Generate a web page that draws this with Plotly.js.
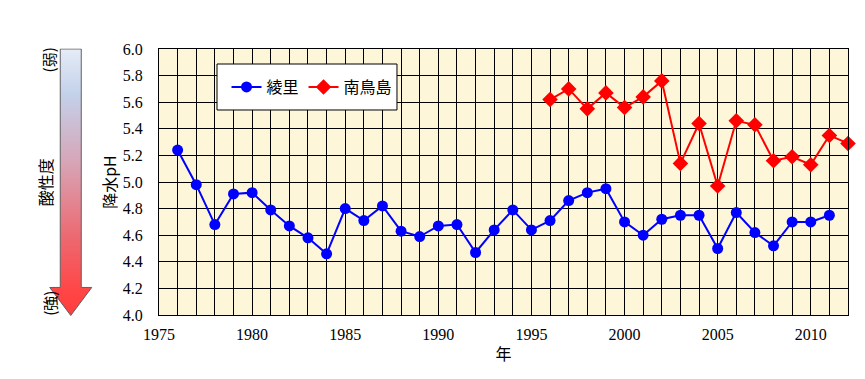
<!DOCTYPE html>
<html>
<head>
<meta charset="utf-8">
<script src="https://cdn.plot.ly/plotly-3.0.1.min.js"></script>
<style>html,body{margin:0;padding:0;background:#fff;}#chart{width:865px;height:379px;}</style>
</head>
<body>
<div id="chart"></div>
<script>
// ---- data ----
const yearsRyori = [1976,1977,1978,1979,1980,1981,1982,1983,1984,1985,1986,1987,1988,1989,1990,1991,1992,1993,1994,1995,1996,1997,1998,1999,2000,2001,2002,2003,2004,2005,2006,2007,2008,2009,2010,2011];
const phRyori = [5.24,4.98,4.68,4.91,4.92,4.79,4.67,4.58,4.46,4.80,4.71,4.82,4.63,4.59,4.67,4.68,4.47,4.64,4.79,4.64,4.71,4.86,4.92,4.95,4.70,4.60,4.72,4.75,4.75,4.50,4.77,4.62,4.52,4.70,4.70,4.75];
const yearsMinamitori = [1996,1997,1998,1999,2000,2001,2002,2003,2004,2005,2006,2007,2008,2009,2010,2011,2012];
const phMinamitori = [5.62,5.70,5.55,5.67,5.56,5.64,5.76,5.14,5.44,4.97,5.46,5.43,5.16,5.19,5.13,5.35,5.29];
const seriesNames = ['綾里','南鳥島'];
const xTitle = '年';
const yTitle = '降水pH';
const sideLabel = '酸性度';
const weakLabel = '(弱)';
const strongLabel = '(強)';

const serif = '"Liberation Serif", "DejaVu Serif", serif';
const jp = '"Noto Sans CJK JP", sans-serif';

const traces = [
  {x: yearsRyori, y: phRyori, name: seriesNames[0], type:'scatter', mode:'lines+markers',
   line:{color:'#0000FF', width:2}, marker:{color:'#0000FF', size:11, symbol:'circle'}, cliponaxis:false},
  {x: yearsMinamitori, y: phMinamitori, name: seriesNames[1], type:'scatter', mode:'lines+markers',
   line:{color:'#FF0000', width:2}, marker:{color:'#FF0000', size:12, symbol:'diamond'}, cliponaxis:false}
];

const arrowSvg = '<svg xmlns="http://www.w3.org/2000/svg" width="44" height="268" viewBox="0 0 44 268">' +
 '<defs><linearGradient id="g" x1="0" y1="0" x2="0" y2="1">' +
 '<stop offset="0" stop-color="#E6ECF7"/><stop offset="0.17" stop-color="#C3D1EA"/>' +
 '<stop offset="0.42" stop-color="#D7A6B8"/><stop offset="0.7" stop-color="#EC6A72"/>' +
 '<stop offset="0.9" stop-color="#FF4747"/><stop offset="1" stop-color="#FF3C3C"/></linearGradient></defs>' +
 '<path d="M11.5 0.5 H32.5 V239 H43 L22 267 L1 239 H11.5 Z" fill="url(#g)" stroke="#606060" stroke-width="1"/></svg>';

const layout = {
  width:865, height:379,
  margin:{l:159, r:17, t:49, b:64},
  paper_bgcolor:'#FFFFFF',
  plot_bgcolor:'#FEF6D8',
  showlegend:true,
  legend:{orientation:'h', x:0.098, y:0.857, xanchor:'left', yanchor:'middle',
          bgcolor:'rgba(0,0,0,0)', borderwidth:0, itemwidth:30,
          font:{family:jp, size:16, color:'#000'}},
  shapes:[{type:'rect', xref:'paper', yref:'paper', x0:0.0842, x1:0.3454, y0:0.7707, y1:0.9436,
           fillcolor:'#FFFFFF', line:{color:'#000', width:1}, layer:'above'}],
  xaxis:{range:[1975,2012], tick0:1975, dtick:5, showgrid:true, gridcolor:'#000', gridwidth:1,
         minor:{dtick:1, showgrid:true, gridcolor:'#000', gridwidth:1},
         showline:true, linecolor:'#000', linewidth:1, mirror:true, zeroline:false,
         ticks:'outside', ticklen:5, tickcolor:'rgba(0,0,0,0)',
         tickfont:{family:serif, size:16, color:'#000'},
         title:{text:xTitle, font:{family:jp, size:16, color:'#000'}, standoff:6}},
  yaxis:{range:[4,6], dtick:0.2, tickformat:'.1f', showgrid:true, gridcolor:'#000', gridwidth:1,
         showline:true, linecolor:'#000', linewidth:1, mirror:true, zeroline:false,
         ticks:'outside', ticklen:12, tickcolor:'rgba(0,0,0,0)',
         tickfont:{family:serif, size:16, color:'#000'},
         title:{text:yTitle, font:{family:jp, size:16, color:'#000'}}},
  images:[{source:'data:image/svg+xml;charset=utf-8,' + encodeURIComponent(arrowSvg),
           xref:'paper', yref:'paper', x:-0.160, y:1.002, sizex:44/689, sizey:268/266,
           xanchor:'left', yanchor:'top', sizing:'stretch', layer:'above'}],
  annotations:[
    {text:sideLabel, xref:'paper', yref:'paper', x:-0.165, y:0.5, textangle:-90, showarrow:false,
     font:{family:jp, size:16, color:'#000'}, xanchor:'center', yanchor:'middle'},
    {text:weakLabel, xref:'paper', yref:'paper', x:-0.160, y:0.96, textangle:-90, showarrow:false,
     font:{family:jp, size:15, color:'#000'}, xanchor:'center', yanchor:'middle'},
    {text:strongLabel, xref:'paper', yref:'paper', x:-0.160, y:0.045, textangle:-90, showarrow:false,
     font:{family:jp, size:15, color:'#000'}, xanchor:'center', yanchor:'middle'}
  ]
};

Plotly.newPlot('chart', traces, layout, {displayModeBar:false, staticPlot:true});
</script>
</body>
</html>
